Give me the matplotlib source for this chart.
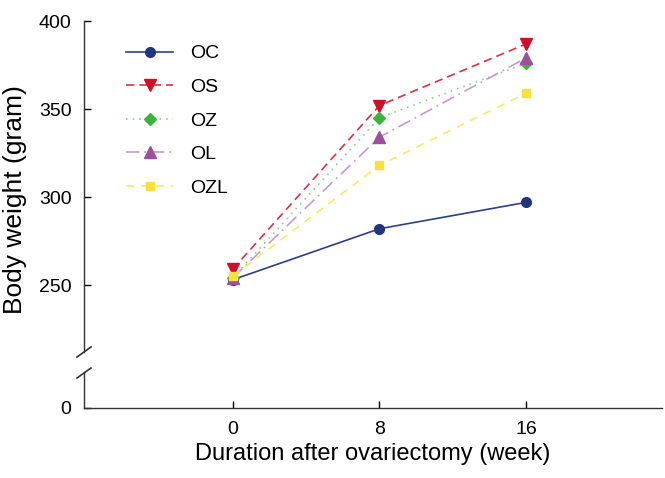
import matplotlib
matplotlib.use("Agg")
import matplotlib.pyplot as plt
from matplotlib.lines import Line2D

plt.rcParams['font.family'] = ['Liberation Sans', 'DejaVu Sans']

weeks = [0, 8, 16]
series_names = ["OC", "OS", "OZ", "OL", "OZL"]
oc = [253, 282, 297]
os_ = [259, 352, 387]
oz = [254, 345, 376]
ol = [254, 334, 379]
ozl = [255, 318, 359]
values = [oc, os_, oz, ol, ozl]

line_colors = ["#2d3f8a", "#e0303f", "#8fd08f", "#c89ac8", "#f7ea6a"]
marker_colors = ["#1f3580", "#d0102a", "#3cb43c", "#9a509a", "#f7e040"]
markers = ["o", "v", "D", "^", "s"]
msizes = [7, 8, 6, 8, 6]
styles = ["-", (0, (5, 3)), (0, (1, 3)), (0, (8, 3, 1, 3)), (0, (5, 4))]

fig = plt.figure(figsize=(6.65, 4.78), dpi=100)
left, right = 84 / 665, 662 / 665
ax = fig.add_axes([left, 1 - 352 / 478, right - left, (352 - 21) / 478])
axb = fig.add_axes([left, 1 - 408 / 478, right - left, (408 - 372) / 478])

xlim = (-8.1, 23.4)
for name, v, lc, mc, mk, ms, ls in zip(series_names, values, line_colors, marker_colors, markers, msizes, styles):
    ax.plot(weeks, v, color=lc, linestyle=ls, linewidth=1.2, marker=mk, markersize=ms,
            markerfacecolor=mc, markeredgecolor=mc, label=name, clip_on=False, zorder=3)

ax.set_xlim(*xlim)
ax.set_ylim(212, 400)
ax.set_yticks([250, 300, 350, 400])
ax.spines['top'].set_visible(False)
ax.spines['right'].set_visible(False)
ax.spines['bottom'].set_visible(False)
ax.tick_params(axis='x', bottom=False, labelbottom=False)
ax.tick_params(axis='y', direction='in', length=5, width=1, labelsize=14, pad=9)
ax.set_ylabel("Body weight (gram)", fontsize=19)
ax.yaxis.set_label_coords(-0.098, 0.46)
ax.patch.set_alpha(0)

axb.set_xlim(*xlim)
axb.set_ylim(0, 1)
axb.set_yticks([0])
axb.set_xticks(weeks)
axb.set_xticklabels([str(w) for w in weeks])
axb.spines['top'].set_visible(False)
axb.spines['right'].set_visible(False)
axb.tick_params(axis='both', direction='in', length=5, width=1, labelsize=14, pad=9)
axb.set_xlabel("Duration after ovariectomy (week)", fontsize=17, labelpad=4)
axb.patch.set_alpha(0)

for a in (ax, axb):
    for s in a.spines.values():
        s.set_linewidth(1.0)
        s.set_color("#333333")

# break marks
x0 = left
for yb in (352, 373):
    yf = 1 - yb / 478
    fig.add_artist(Line2D([x0 - 7 / 665, x0 + 7 / 665], [yf - 5 / 478, yf + 5 / 478],
                          transform=fig.transFigure, color="#333333", linewidth=1.2))

leg = ax.legend(loc='upper left', bbox_to_anchor=(0.043, 0.981), frameon=False,
                fontsize=14, handlelength=2.4, labelspacing=0.82, handletextpad=0.9)

fig.savefig("out.png", dpi=100)
